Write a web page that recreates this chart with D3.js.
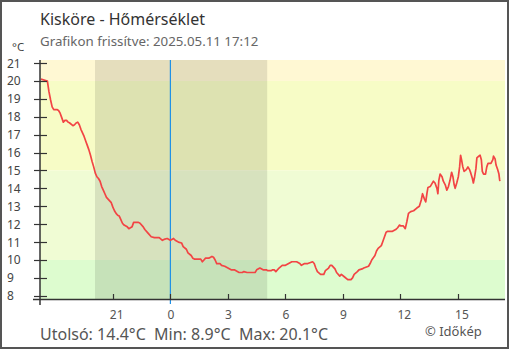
<!DOCTYPE html>
<html>
<head>
<meta charset="utf-8">
<script src="https://cdn.jsdelivr.net/npm/d3@7/dist/d3.min.js"></script>
<style>
  html, body { margin: 0; padding: 0; background: #fff; }
  svg { display: block; font-family: "Noto Sans", "Open Sans", sans-serif; }
</style>
</head>
<body>
<svg id="chart" width="510" height="350"></svg>
<script>
// Kisköre temperature readings (local time)
const times = [
  "2025-05-10 17:15","2025-05-10 17:35","2025-05-10 17:40","2025-05-10 17:45","2025-05-10 17:50",
  "2025-05-10 17:55","2025-05-10 18:05","2025-05-10 18:10","2025-05-10 18:15","2025-05-10 18:20",
  "2025-05-10 18:25","2025-05-10 18:30","2025-05-10 18:35","2025-05-10 18:40","2025-05-10 18:45",
  "2025-05-10 18:55","2025-05-10 19:00","2025-05-10 19:05","2025-05-10 19:10","2025-05-10 19:15",
  "2025-05-10 19:20","2025-05-10 19:25","2025-05-10 19:30","2025-05-10 19:35","2025-05-10 19:40",
  "2025-05-10 19:45","2025-05-10 19:50","2025-05-10 19:55","2025-05-10 20:00","2025-05-10 20:05",
  "2025-05-10 20:10","2025-05-10 20:15","2025-05-10 20:20","2025-05-10 20:25","2025-05-10 20:30",
  "2025-05-10 20:35","2025-05-10 20:40","2025-05-10 20:45","2025-05-10 20:50","2025-05-10 20:55",
  "2025-05-10 21:00","2025-05-10 21:05","2025-05-10 21:10","2025-05-10 21:15","2025-05-10 21:20",
  "2025-05-10 21:25","2025-05-10 21:30","2025-05-10 21:35","2025-05-10 21:45","2025-05-10 21:50",
  "2025-05-10 21:55","2025-05-10 22:00","2025-05-10 22:05","2025-05-10 22:20","2025-05-10 22:25",
  "2025-05-10 22:35","2025-05-10 22:40","2025-05-10 22:50","2025-05-10 23:00","2025-05-10 23:10",
  "2025-05-10 23:25","2025-05-10 23:35","2025-05-10 23:40","2025-05-10 23:50","2025-05-11 00:00",
  "2025-05-11 00:10","2025-05-11 00:15","2025-05-11 00:25","2025-05-11 00:35","2025-05-11 00:40",
  "2025-05-11 00:50","2025-05-11 00:55","2025-05-11 01:05","2025-05-11 01:10","2025-05-11 01:15",
  "2025-05-11 01:35","2025-05-11 01:40","2025-05-11 01:45","2025-05-11 01:50","2025-05-11 02:00",
  "2025-05-11 02:10","2025-05-11 02:15","2025-05-11 02:20","2025-05-11 02:25","2025-05-11 02:35",
  "2025-05-11 02:40","2025-05-11 02:50","2025-05-11 03:00","2025-05-11 03:10","2025-05-11 03:20",
  "2025-05-11 03:35","2025-05-11 03:45","2025-05-11 03:50","2025-05-11 04:00","2025-05-11 04:25",
  "2025-05-11 04:30","2025-05-11 04:40","2025-05-11 04:50","2025-05-11 05:00","2025-05-11 05:05",
  "2025-05-11 05:15","2025-05-11 05:20","2025-05-11 05:25","2025-05-11 05:30","2025-05-11 05:40",
  "2025-05-11 05:50","2025-05-11 06:00","2025-05-11 06:10","2025-05-11 06:20","2025-05-11 06:35",
  "2025-05-11 06:45","2025-05-11 06:50","2025-05-11 07:00","2025-05-11 07:10","2025-05-11 07:25",
  "2025-05-11 07:30","2025-05-11 07:35","2025-05-11 07:40","2025-05-11 07:50","2025-05-11 08:00",
  "2025-05-11 08:05","2025-05-11 08:15","2025-05-11 08:20","2025-05-11 08:25","2025-05-11 08:35",
  "2025-05-11 08:40","2025-05-11 08:50","2025-05-11 08:55","2025-05-11 09:05","2025-05-11 09:15",
  "2025-05-11 09:25","2025-05-11 09:30","2025-05-11 09:35","2025-05-11 09:45","2025-05-11 09:50",
  "2025-05-11 10:00","2025-05-11 10:05","2025-05-11 10:20","2025-05-11 10:25","2025-05-11 10:30",
  "2025-05-11 10:40","2025-05-11 10:45","2025-05-11 10:50","2025-05-11 11:00","2025-05-11 11:05",
  "2025-05-11 11:10","2025-05-11 11:15","2025-05-11 11:20","2025-05-11 11:35","2025-05-11 11:45",
  "2025-05-11 11:51","2025-05-11 11:57","2025-05-11 12:01","2025-05-11 12:09","2025-05-11 12:15",
  "2025-05-11 12:20","2025-05-11 12:25","2025-05-11 12:32","2025-05-11 12:41","2025-05-11 12:51",
  "2025-05-11 12:59","2025-05-11 13:05","2025-05-11 13:09","2025-05-11 13:12","2025-05-11 13:15",
  "2025-05-11 13:19","2025-05-11 13:23","2025-05-11 13:26","2025-05-11 13:33","2025-05-11 13:38",
  "2025-05-11 13:43","2025-05-11 13:48","2025-05-11 13:54","2025-05-11 13:57","2025-05-11 14:00",
  "2025-05-11 14:04","2025-05-11 14:10","2025-05-11 14:14","2025-05-11 14:20","2025-05-11 14:25",
  "2025-05-11 14:30","2025-05-11 14:35","2025-05-11 14:40","2025-05-11 14:44","2025-05-11 14:48",
  "2025-05-11 14:51","2025-05-11 14:56","2025-05-11 15:01","2025-05-11 15:05","2025-05-11 15:08",
  "2025-05-11 15:11","2025-05-11 15:15","2025-05-11 15:19","2025-05-11 15:26","2025-05-11 15:31",
  "2025-05-11 15:36","2025-05-11 15:40","2025-05-11 15:45","2025-05-11 15:48","2025-05-11 15:52",
  "2025-05-11 15:56","2025-05-11 15:59","2025-05-11 16:05","2025-05-11 16:09","2025-05-11 16:13",
  "2025-05-11 16:16","2025-05-11 16:20","2025-05-11 16:26","2025-05-11 16:30","2025-05-11 16:34",
  "2025-05-11 16:43","2025-05-11 16:49","2025-05-11 16:51","2025-05-11 16:56","2025-05-11 16:59",
  "2025-05-11 17:04","2025-05-11 17:08","2025-05-11 17:10","2025-05-11 17:11"
];
const temps = [
  20.1, 20.0, 19.4, 18.95, 18.55,
  18.4, 18.4, 18.35, 18.2, 17.95,
  17.7, 17.8, 17.8, 17.7, 17.65,
  17.5, 17.55, 17.65, 17.7, 17.55,
  17.3, 17.1, 16.9, 16.65, 16.4,
  16.15, 15.85, 15.5, 15.2, 14.85,
  14.65, 14.55, 14.4, 14.1, 13.9,
  13.7, 13.5, 13.4, 13.3, 13.2,
  12.95, 12.75, 12.6, 12.5, 12.45,
  12.25, 12.05, 11.95, 11.85, 11.75,
  11.8, 11.85, 12.1, 12.1, 12.05,
  11.85, 11.7, 11.5, 11.3, 11.25,
  11.25, 11.1, 11.15, 11.2, 11.1,
  11.2, 11.1, 11.0, 10.95, 10.75,
  10.6, 10.4, 10.25, 10.1, 10.05,
  10.05, 9.9, 10.0, 10.1, 10.1,
  10.2, 10.15, 10.0, 9.8, 9.8,
  9.7, 9.65, 9.55, 9.45, 9.45,
  9.3, 9.3, 9.35, 9.3, 9.3,
  9.45, 9.55, 9.45, 9.45, 9.4,
  9.4, 9.45, 9.45, 9.35, 9.55,
  9.7, 9.7, 9.8, 9.9, 9.9,
  9.8, 9.7, 9.8, 9.8, 9.9,
  9.8, 9.55, 9.35, 9.2, 9.2,
  9.4, 9.55, 9.7, 9.7, 9.5,
  9.3, 9.1, 9.2, 9.05, 8.9,
  8.9, 9.0, 9.2, 9.35, 9.45,
  9.5, 9.55, 9.65, 9.8, 10.0,
  10.25, 10.5, 10.65, 10.8, 11.05,
  11.3, 11.55, 11.6, 11.6, 11.7,
  11.8, 11.95, 11.9, 11.9, 11.75,
  12.15, 12.6, 12.7, 12.75, 12.9,
  13.0, 13.35, 13.7, 13.55, 13.4,
  13.25, 13.75, 14.05, 14.1, 14.25,
  14.4, 14.3, 14.0, 13.7, 14.45,
  14.8, 14.65, 14.4, 14.2, 13.9,
  14.1, 14.45, 14.9, 14.65, 14.2,
  14.0, 14.3, 14.65, 15.2, 15.85,
  15.6, 15.2, 14.95, 15.05, 15.2,
  15.05, 14.85, 14.55, 14.3, 14.65,
  15.1, 15.7, 15.8, 15.85, 15.6,
  14.95, 14.8, 14.8, 15.2, 15.4,
  15.4, 15.6, 15.8, 15.65, 15.3,
  15.05, 14.8, 14.5, 14.4
];

// Time window, night (sunset–sunrise) and the midnight marker
const timeWindow = ["2025-05-10 17:12", "2025-05-11 17:27"];
const night = ["2025-05-10 20:04", "2025-05-11 05:03"];
const midnight = "2025-05-11 00:00";
const xTicks = ["2025-05-10 21:00","2025-05-11 00:00","2025-05-11 03:00","2025-05-11 06:00",
                "2025-05-11 09:00","2025-05-11 12:00","2025-05-11 15:00"];
const yTicks = [8, 9, 10, 11, 12, 13, 14, 15, 16, 17, 18, 19, 20, 21];
const yRange = [7.82, 21.17];

// Temperature bands behind the curve
const bandEdges = [[7.82, 10], [10, 15], [15, 20], [20, 21.17]];
const bandColors = ["#ddfccf", "#f0fcd4", "#f7fcc6", "#fff8d3"];

const title = "Kisköre - Hőmérséklet";
const subtitle = "Grafikon frissítve: 2025.05.11 17:12";
const summary = "Utolsó: 14.4°C  Min: 8.9°C  Max: 20.1°C";
const credit = "© Időkép";

const parse = d3.timeParse("%Y-%m-%d %H:%M");
const data = times.map((t, i) => ({ t: parse(t), v: temps[i] }));

const svg = d3.select("#chart");
const plot = { left: 40, right: 505, top: 60, bottom: 299 };

const x = d3.scaleTime().domain(timeWindow.map(parse)).range([plot.left, plot.right]);
const y = d3.scaleLinear().domain(yRange).range([plot.bottom, plot.top]);

// bands
svg.append("g").selectAll("rect").data(bandEdges).join("rect")
  .attr("x", plot.left).attr("width", plot.right - plot.left)
  .attr("y", d => y(d[1])).attr("height", d => y(d[0]) - y(d[1]))
  .attr("fill", (d, i) => bandColors[i]);

// night shading
svg.append("rect")
  .attr("x", x(parse(night[0]))).attr("width", x(parse(night[1])) - x(parse(night[0])))
  .attr("y", plot.top).attr("height", plot.bottom - plot.top)
  .attr("fill", "#000").attr("fill-opacity", 0.1);

// midnight marker
svg.append("line")
  .attr("x1", x(parse(midnight))).attr("x2", x(parse(midnight)))
  .attr("y1", plot.top).attr("y2", plot.bottom + 5)
  .attr("stroke", "#1e90e6").attr("stroke-width", 1.2);

// temperature curve
const line = d3.line().x(d => x(d.t)).y(d => y(d.v));
svg.append("path").datum(data)
  .attr("d", line)
  .attr("fill", "none")
  .attr("stroke", "#f24444")
  .attr("stroke-width", 1.7)
  .attr("stroke-linejoin", "round");

// y axis
const yAxis = svg.append("g");
yAxis.append("line").attr("x1", plot.left).attr("x2", plot.left)
  .attr("y1", plot.top).attr("y2", plot.bottom + 6)
  .attr("stroke", "#333").attr("stroke-width", 1.5);
yAxis.selectAll("line.tick").data(yTicks).join("line").attr("class", "tick")
  .attr("x1", plot.left - 6).attr("x2", plot.left + 7)
  .attr("y1", d => Math.round(y(d)) + 0.5).attr("y2", d => Math.round(y(d)) + 0.5)
  .attr("stroke", "#333").attr("stroke-width", 1.2);
yAxis.selectAll("text").data(yTicks).join("text")
  .attr("x", 7).attr("y", d => y(d) + 4.5)
  .attr("font-size", 12).attr("fill", "#444")
  .text(d => d);
svg.append("text").attr("x", 12).attr("y", 51).attr("font-size", 11.5).attr("fill", "#444").text("°C");

// x axis
const xAxis = svg.append("g");
xAxis.append("line").attr("x1", plot.left - 7).attr("x2", plot.right)
  .attr("y1", plot.bottom + 0.5).attr("y2", plot.bottom + 0.5)
  .attr("stroke", "#333").attr("stroke-width", 1.5);
const xt = xTicks.map(parse);
xAxis.selectAll("line.tick").data(xt).join("line").attr("class", "tick")
  .attr("x1", d => Math.round(x(d)) + 0.5).attr("x2", d => Math.round(x(d)) + 0.5)
  .attr("y1", plot.bottom - 5).attr("y2", plot.bottom)
  .attr("stroke", "#333").attr("stroke-width", 1.2);
const fmt = d3.timeFormat("%-H");
xAxis.selectAll("text").data(xt).join("text")
  .attr("x", d => x(d) - 3).attr("y", plot.bottom + 20)
  .attr("font-size", 12).attr("fill", "#555")
  .text(d => fmt(d));

// titles and footer
svg.append("text").attr("x", 40).attr("y", 25).attr("font-size", 16).attr("fill", "#333").text(title);
svg.append("text").attr("x", 40).attr("y", 46).attr("font-size", 13.3).attr("fill", "#666").text(subtitle);
svg.append("text").attr("x", 40).attr("y", 340).attr("font-size", 16).attr("fill", "#555")
  .style("white-space", "pre").text(summary);
svg.append("text").attr("x", 425).attr("y", 336).attr("font-size", 13).attr("fill", "#555").text(credit);

// frame
svg.append("rect").attr("x", 1).attr("y", 1).attr("width", 507).attr("height", 347)
  .attr("fill", "none").attr("stroke", "#555").attr("stroke-width", 2);
</script>
</body>
</html>
